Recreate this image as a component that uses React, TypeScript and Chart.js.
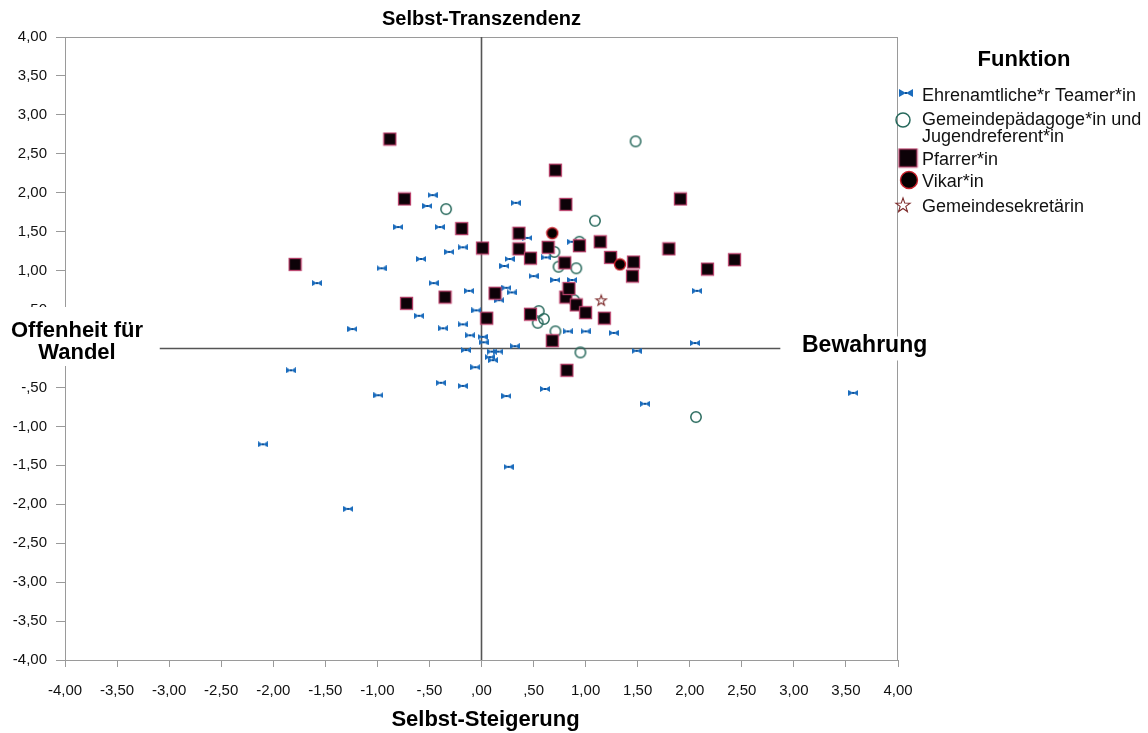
import React, { useEffect, useRef } from "react";
import { Chart, registerables } from "chart.js";

Chart.register(...registerables);

const FONT = "'Liberation Sans', Arial, Helvetica, sans-serif";

const xTickLabels = ["-4,00", "-3,50", "-3,00", "-2,50", "-2,00", "-1,50", "-1,00", "-,50", ",00", ",50", "1,00", "1,50", "2,00", "2,50", "3,00", "3,50", "4,00"];
const yTickLabels = ["-4,00", "-3,50", "-3,00", "-2,50", "-2,00", "-1,50", "-1,00", "-,50", ",00", ",50", "1,00", "1,50", "2,00", "2,50", "3,00", "3,50", "4,00"];

const xTitle = "Selbst-Steigerung";
const topTitle = "Selbst-Transzendenz";
const leftLabel = ["Offenheit für", "Wandel"];
const rightLabel = "Bewahrung";
const legendTitle = "Funktion";

const seriesNames = [
  ["Ehrenamtliche*r Teamer*in"],
  ["Gemeindepädagoge*in und", "Jugendreferent*in"],
  ["Pfarrer*in"],
  ["Vikar*in"],
  ["Gemeindesekretärin"],
];

const ehrenamtliche: [number, number][] = [
  [-0.47, 1.97], [-0.52, 1.83], [-0.8, 1.56], [-0.4, 1.56], [-0.31, 1.24], [-0.18, 1.3],
  [-0.58, 1.15], [-0.96, 1.03], [-1.58, 0.84], [-0.46, 0.84], [-0.12, 0.74], [-0.05, 0.49],
  [-0.6, 0.42], [-0.37, 0.26], [-0.18, 0.31], [-0.11, 0.17], [-1.24, 0.25], [0.01, 0.15],
  [0.02, 0.08], [-0.15, -0.02], [0.1, -0.04], [0.16, -0.04], [0.08, -0.11], [0.11, -0.15],
  [-0.06, -0.24], [0.32, 0.03], [0.33, 1.87], [0.44, 1.42], [0.27, 1.15], [0.22, 1.06],
  [0.62, 1.17], [0.5, 0.93], [0.87, 1.37], [0.24, 0.78], [0.29, 0.72], [0.17, 0.62],
  [0.71, 0.88], [0.87, 0.88], [0.83, 0.22], [1.0, 0.22], [1.27, 0.2], [1.49, -0.03],
  [2.05, 0.07], [2.07, 0.74], [3.57, -0.57], [-1.83, -0.28], [-0.99, -0.6], [-0.39, -0.44],
  [-0.18, -0.48], [0.24, -0.61], [0.61, -0.52], [1.57, -0.71], [-2.1, -1.23], [0.26, -1.52],
  [-1.28, -2.06],
];

const gemeindepaedagoge: [number, number][] = [
  [1.48, 2.66], [1.09, 1.64], [-0.34, 1.79], [0.7, 1.24], [0.94, 1.37], [0.74, 1.05],
  [0.91, 1.03], [0.89, 0.62], [0.55, 0.48], [0.6, 0.38], [0.54, 0.33], [0.71, 0.22],
  [0.95, -0.05], [2.06, -0.88],
];

const pfarrer: [number, number][] = [
  [-0.88, 2.69], [-0.74, 1.92], [-1.79, 1.08], [-0.72, 0.58], [-0.35, 0.66], [-0.19, 1.54],
  [0.01, 1.29], [0.05, 0.39], [0.13, 0.71], [0.36, 1.48], [0.36, 1.28], [0.47, 1.16],
  [0.47, 0.44], [0.71, 2.29], [0.81, 1.85], [0.64, 1.3], [0.94, 1.32], [0.8, 1.1],
  [0.81, 0.66], [0.84, 0.77], [0.91, 0.56], [1.0, 0.46], [1.18, 0.39], [0.68, 0.1],
  [0.82, -0.28], [1.14, 1.37], [1.24, 1.17], [1.45, 0.93], [1.46, 1.11], [1.8, 1.28],
  [1.91, 1.92], [2.17, 1.02], [2.43, 1.14],
];

const vikar: [number, number][] = [[0.68, 1.48], [1.33, 1.08]];

const sekretaerin: [number, number][] = [[1.15, 0.62]];

// extent of the horizontal reference line (in data units)
const hLineFrom = -3.09;
const hLineTo = 2.87;

function mk(w: number, h: number, draw: (c: CanvasRenderingContext2D) => void) {
  const c = document.createElement("canvas");
  c.width = w;
  c.height = h;
  const ctx = c.getContext("2d")!;
  draw(ctx);
  return c;
}

function bowtie(w: number, h: number) {
  return mk(w, h, (c) => {
    c.fillStyle = "#1a6cbd";
    c.beginPath();
    c.moveTo(0, 0);
    c.lineTo(w / 2, h / 2);
    c.lineTo(0, h);
    c.closePath();
    c.moveTo(w, 0);
    c.lineTo(w / 2, h / 2);
    c.lineTo(w, h);
    c.closePath();
    c.fill();
    c.fillStyle = "#0b4f96";
    c.fillRect(w / 2 - 1, h / 2 - 1, 2, 2);
  });
}

function openCircle(r: number, lw: number) {
  const s = Math.ceil(2 * r + lw + 2);
  return mk(s, s, (c) => {
    c.strokeStyle = "#27695c";
    c.lineWidth = lw;
    c.beginPath();
    c.arc(s / 2, s / 2, r, 0, Math.PI * 2);
    c.stroke();
  });
}

function square(side: number) {
  const s = side + 2;
  return mk(s, s, (c) => {
    c.fillStyle = "#0d0208";
    c.fillRect(1, 1, side, side);
    c.strokeStyle = "#b8406a";
    c.lineWidth = 1.3;
    c.strokeRect(1.5, 1.5, side - 1, side - 1);
  });
}

function filledCircle(r: number) {
  const s = Math.ceil(2 * r + 3);
  return mk(s, s, (c) => {
    c.fillStyle = "#050000";
    c.strokeStyle = "#c8202a";
    c.lineWidth = 1.4;
    c.beginPath();
    c.arc(s / 2, s / 2, r, 0, Math.PI * 2);
    c.fill();
    c.stroke();
  });
}

function star(r: number) {
  const s = Math.ceil(2 * r + 3);
  return mk(s, s, (c) => {
    c.strokeStyle = "#7d2b2b";
    c.lineWidth = 1.1;
    c.beginPath();
    for (let i = 0; i < 10; i++) {
      const rr = i % 2 === 0 ? r : r * 0.4;
      const a = -Math.PI / 2 + (i * Math.PI) / 5;
      const px = s / 2 + rr * Math.cos(a);
      const py = s / 2 + 0.5 + rr * Math.sin(a);
      if (i === 0) c.moveTo(px, py);
      else c.lineTo(px, py);
    }
    c.closePath();
    c.stroke();
  });
}

export default function App() {
  const ref = useRef<HTMLCanvasElement | null>(null);

  useEffect(() => {
    document.body.style.margin = "0";
    const canvas = ref.current!;
    Chart.defaults.font.family = FONT;

    const styles = [bowtie(10, 6), openCircle(5.2, 1.5), square(13), filledCircle(5.5), star(5.5)];
    const legendStyles = [bowtie(14, 8), openCircle(7, 1.5), square(19), filledCircle(8.5), star(7.5)];
    const legendMarkers = [
      [906, 93], [903, 120], [908, 158], [909, 180], [903, 205],
    ];
    const legendBaselines = [[100.7], [125, 141.7], [165], [186.7], [211.7]];

    const overlay = {
      id: "overlay",
      beforeDatasetsDraw(chart: any) {
        const { ctx, chartArea: a, scales } = chart;
        const x = scales.x, y = scales.y;
        ctx.save();
        ctx.strokeStyle = "#9a9a9a";
        ctx.lineWidth = 1;
        ctx.strokeRect(a.left + 0.5, a.top + 0.5, a.right - a.left - 1, a.bottom - a.top);
        ctx.strokeStyle = "#555555";
        ctx.lineWidth = 1.6;
        const x0 = x.getPixelForValue(0);
        const y0 = y.getPixelForValue(0);
        ctx.beginPath();
        ctx.moveTo(x0, a.top);
        ctx.lineTo(x0, a.bottom);
        ctx.moveTo(x.getPixelForValue(hLineFrom), y0);
        ctx.lineTo(x.getPixelForValue(hLineTo), y0);
        ctx.stroke();
        ctx.restore();
      },
      afterDraw(chart: any) {
        const { ctx, chartArea: a, scales } = chart;
        const x = scales.x, y = scales.y;
        const x0 = x.getPixelForValue(0);
        const y0 = y.getPixelForValue(0);
        ctx.save();
        ctx.fillStyle = "#000";
        ctx.textAlign = "center";
        ctx.textBaseline = "middle";
        ctx.font = `bold 20px ${FONT}`;
        ctx.fillText(topTitle, x0, 19);
        ctx.font = `bold 22px ${FONT}`;
        ctx.fillText(xTitle, (a.left + a.right) / 2 + 4, 720);

        // side labels with white background
        ctx.fillStyle = "#fff";
        ctx.fillRect(0, 307, 158, 59);
        ctx.fillRect(798, y0 - 12, 134, 24);
        ctx.fillStyle = "#000";
        ctx.font = `bold 22px ${FONT}`;
        ctx.textBaseline = "alphabetic";
        ctx.fillText(leftLabel[0], 77, 337);
        ctx.fillText(leftLabel[1], 77, 359);
        ctx.textAlign = "left";
        ctx.font = `bold 23px ${FONT}`;
        ctx.fillText(rightLabel, 802, 352);

        // legend
        ctx.textAlign = "center";
        ctx.font = `bold 22px ${FONT}`;
        ctx.fillText(legendTitle, 1024, 66);
        ctx.textAlign = "left";
        ctx.font = `18px ${FONT}`;
        ctx.fillStyle = "#111";
        seriesNames.forEach((lines, i) => {
          const img = legendStyles[i];
          const [mx, my] = legendMarkers[i];
          ctx.drawImage(img, mx - img.width / 2, my - img.height / 2);
          lines.forEach((t, j) => ctx.fillText(t, 922, legendBaselines[i][j]));
        });
        ctx.restore();
      },
    };

    const datasets = [ehrenamtliche, gemeindepaedagoge, pfarrer, vikar, sekretaerin].map((pts, i) => ({
      label: seriesNames[i].join(" "),
      data: pts.map(([px, py]) => ({ x: px, y: py })),
      pointStyle: styles[i] as any,
      pointRadius: 5,
      order: 5 - i,
    }));

    const tickFont = { size: 15, family: FONT };

    const chart = new Chart(canvas, {
      type: "scatter",
      data: { datasets },
      options: {
        animation: false,
        responsive: false,
        events: [],
        layout: { padding: { top: 37, right: 250, left: 0, bottom: 0 } },
        plugins: { legend: { display: false }, tooltip: { enabled: false } },
        scales: {
          x: {
            type: "linear",
            min: -4,
            max: 4,
            afterFit: (s: any) => { s.height = 73; },
            ticks: {
              stepSize: 0.5,
              autoSkip: false,
              maxRotation: 0,
              color: "#111",
              font: tickFont,
              padding: 15,
              callback: (v: any) => xTickLabels[Math.round((Number(v) + 4) / 0.5)] ?? "",
            },
            grid: { drawOnChartArea: false, drawTicks: true, tickLength: 7, color: "#9a9a9a" },
            border: { display: true, color: "#9a9a9a" },
          },
          y: {
            type: "linear",
            min: -4,
            max: 4,
            afterFit: (s: any) => { s.width = 65; },
            ticks: {
              stepSize: 0.5,
              autoSkip: false,
              color: "#111",
              font: tickFont,
              padding: 9,
              callback: (v: any) => yTickLabels[Math.round((Number(v) + 4) / 0.5)] ?? "",
            },
            grid: { drawOnChartArea: false, drawTicks: true, tickLength: 9, color: "#9a9a9a" },
            border: { display: true, color: "#9a9a9a" },
          },
        },
      },
      plugins: [overlay],
    });

    return () => chart.destroy();
  }, []);

  return (
    <div style={{ width: 1148, height: 733, background: "#fff" }}>
      <canvas ref={ref} width={1148} height={733} style={{ display: "block" }} />
    </div>
  );
}
